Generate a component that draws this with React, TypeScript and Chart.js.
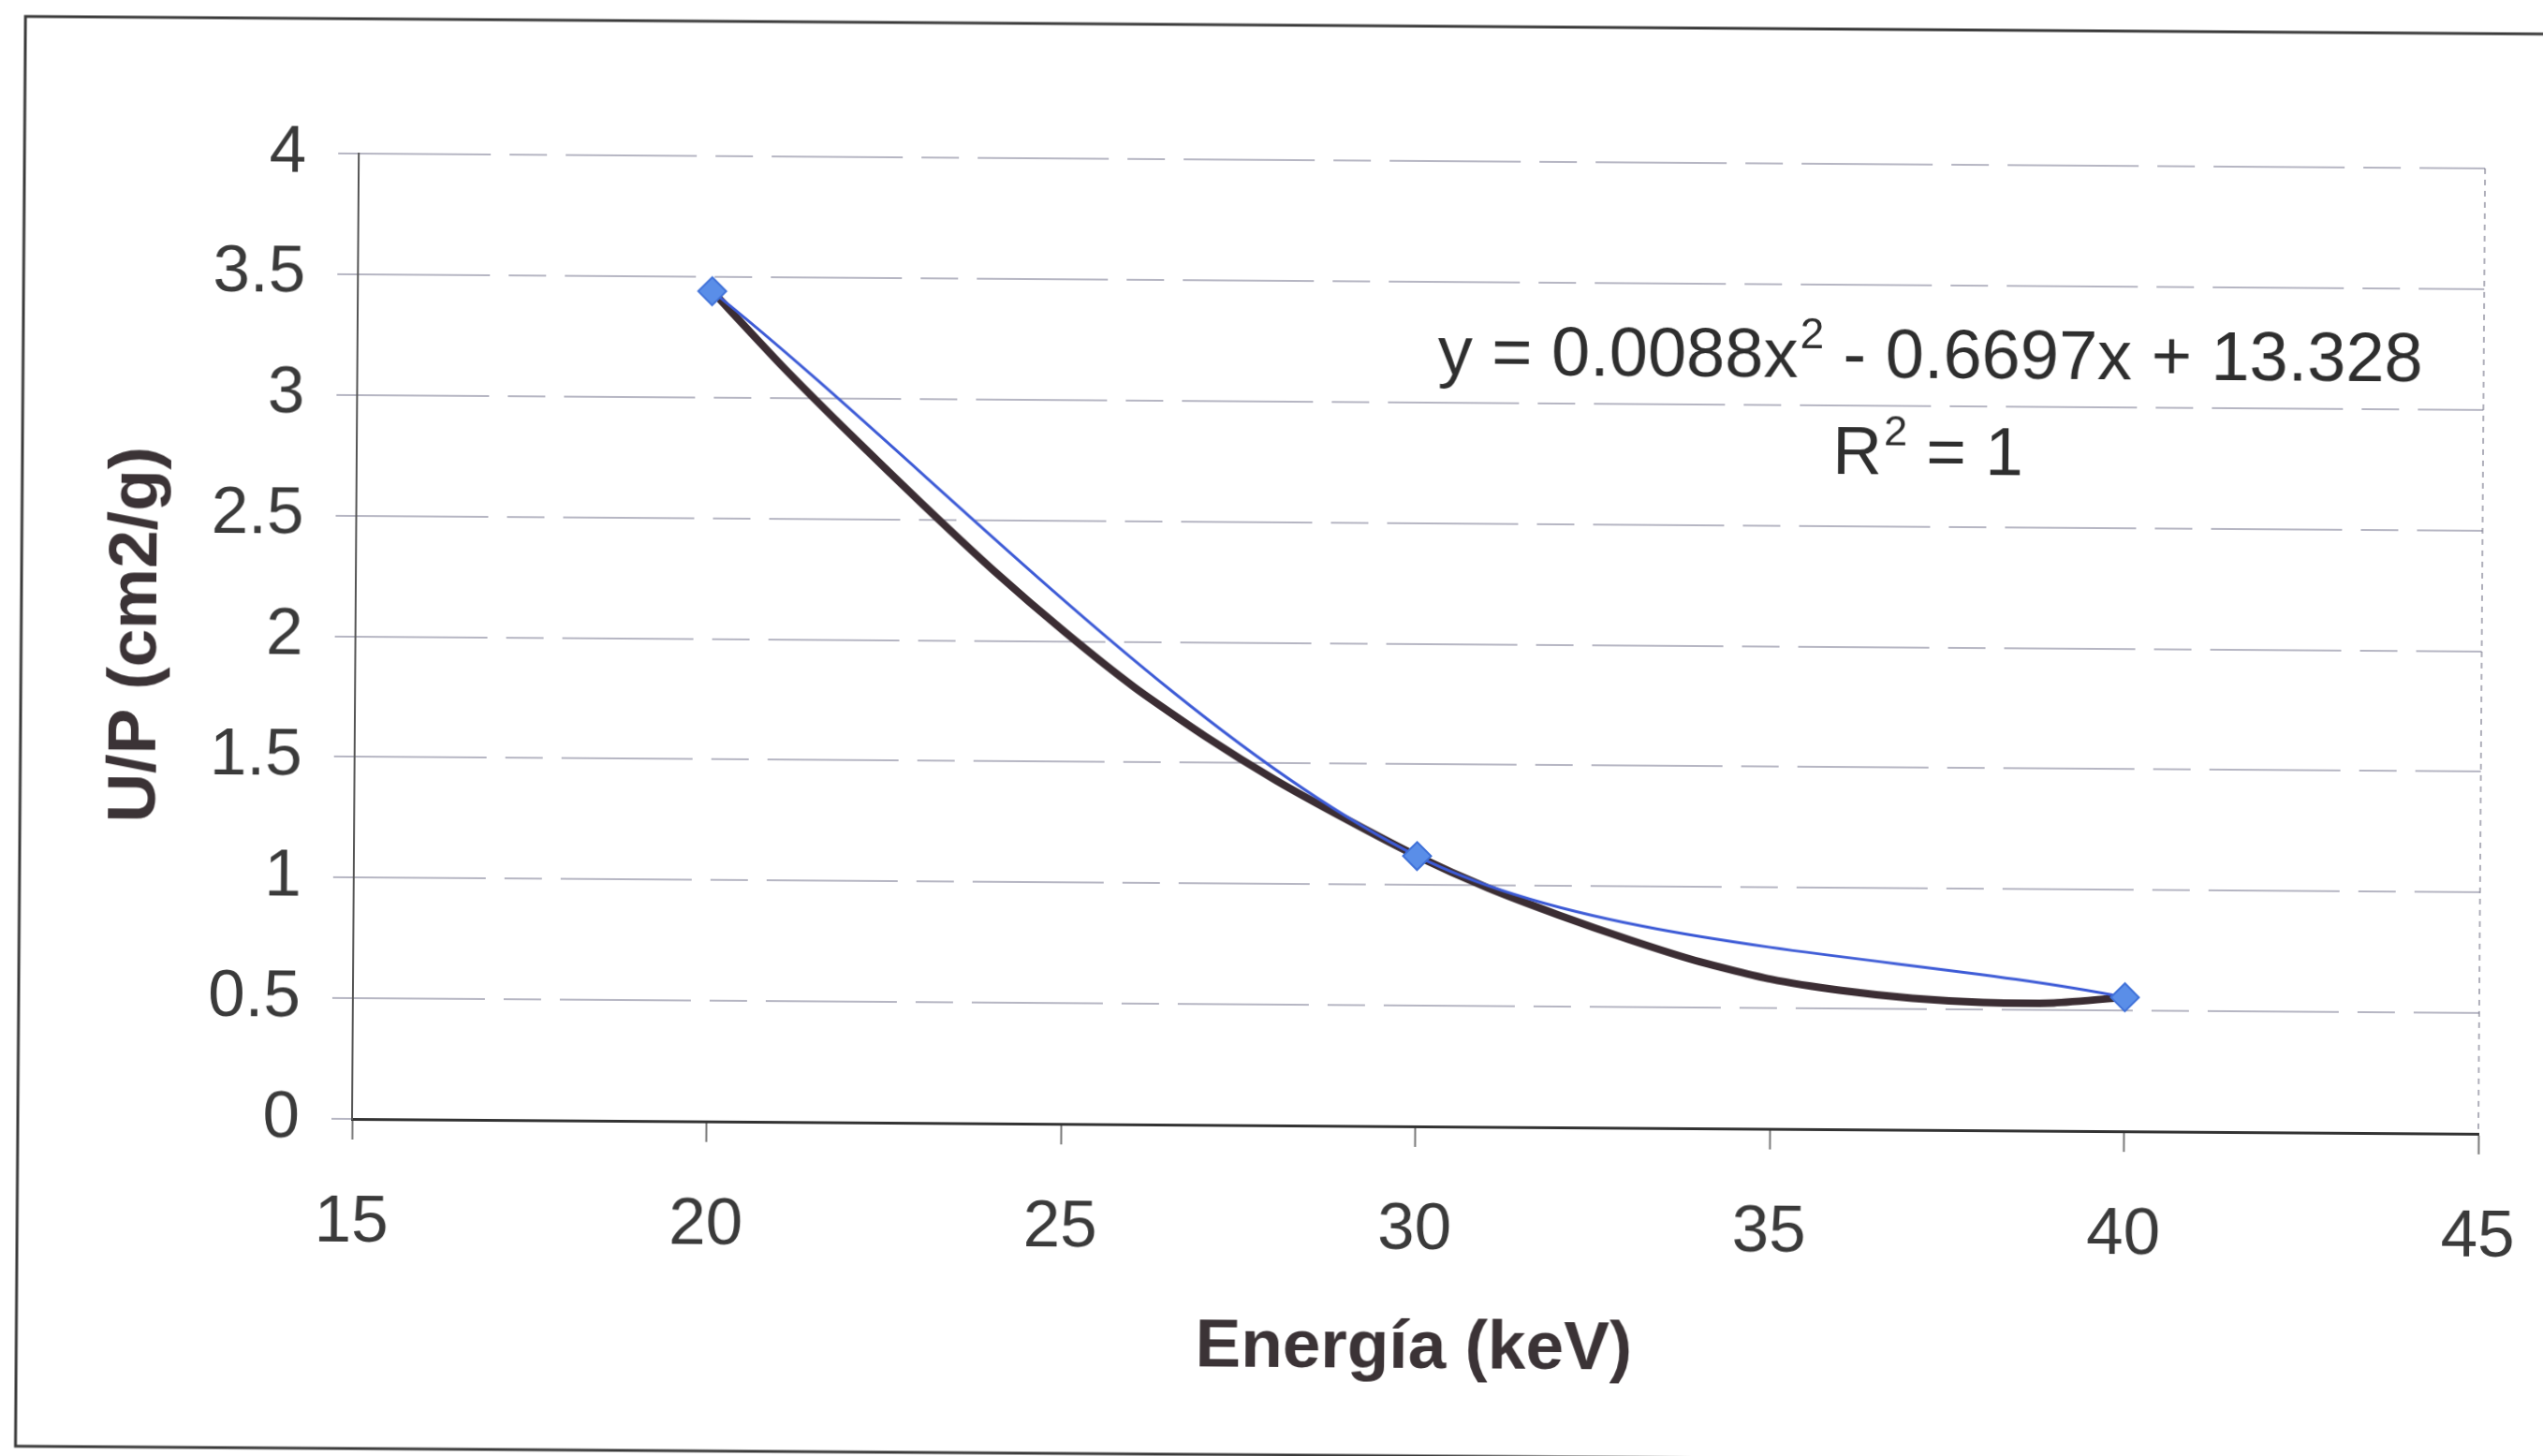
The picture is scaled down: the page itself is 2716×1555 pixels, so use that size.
import { useEffect, useRef } from "react";
import { Chart, registerables } from "chart.js";

Chart.register(...registerables);

// Valores medidos de U/P frente a la energía
const energiaKeV = [20, 30, 40];
const upMedido = [3.44, 1.12, 0.555];

// Línea de tendencia polinómica (orden 2)
const tendenciaX = [20, 21, 22, 23, 24, 25, 26, 27, 28, 29, 30, 31, 32, 33, 34, 35, 36, 37, 38, 39, 40];
const tendenciaY = [3.44, 3.13, 2.84, 2.56, 2.29, 2.04, 1.81, 1.61, 1.43, 1.27, 1.12, 0.99, 0.88, 0.78, 0.69, 0.62, 0.575, 0.545, 0.53, 0.53, 0.555];

// Ejes
const xMin = 15;
const xMax = 45;
const xStep = 5;
const yMin = 0;
const yMax = 4;
const yStep = 0.5;

const tituloX = "Energía (keV)";
const tituloY = "U/P (cm2/g)";
const ecuacion = ["y = 0.0088x", "2", " - 0.6697x + 13.328"];
const rCuadrado = ["R", "2", " = 1"];

const FONT = '"Liberation Sans", Arial, sans-serif';
const W = 2716;
const H = 1555;

function drawWithSuperscript(
  ctx: CanvasRenderingContext2D,
  parts: string[],
  cx: number,
  baseline: number,
  size: number
) {
  const main = `${size}px ${FONT}`;
  const sup = `${Math.round(size * 0.62)}px ${FONT}`;
  ctx.font = main;
  const w1 = ctx.measureText(parts[0]).width;
  const w3 = ctx.measureText(parts[2]).width;
  ctx.font = sup;
  const w2 = ctx.measureText(parts[1]).width;
  let x = cx - (w1 + w2 + w3) / 2;
  ctx.textAlign = "left";
  ctx.textBaseline = "alphabetic";
  ctx.font = main;
  ctx.fillText(parts[0], x, baseline);
  x += w1;
  ctx.font = sup;
  ctx.fillText(parts[1], x + 2, baseline - size * 0.42);
  x += w2 + 2;
  ctx.font = main;
  ctx.fillText(parts[2], x, baseline);
}

const framePlugin = {
  id: "frame",
  beforeDraw(chart: any) {
    const ctx = chart.ctx as CanvasRenderingContext2D;
    ctx.save();
    ctx.fillStyle = "#ffffff";
    ctx.fillRect(0, 0, chart.width, chart.height);
    ctx.strokeStyle = "#3a3a3a";
    ctx.lineWidth = 3;
    ctx.beginPath();
    ctx.moveTo(W + 20, 20);
    ctx.lineTo(19, 20);
    ctx.lineTo(19, 1547);
    ctx.lineTo(W + 20, 1547);
    ctx.stroke();
    ctx.restore();
  },
  beforeDatasetsDraw(chart: any) {
    const { ctx, chartArea } = chart;
    ctx.save();
    ctx.strokeStyle = "rgba(110,110,130,0.55)";
    ctx.lineWidth = 2;
    ctx.setLineDash([6, 6]);
    ctx.beginPath();
    ctx.moveTo(chartArea.right, chartArea.top);
    ctx.lineTo(chartArea.right, chartArea.bottom);
    ctx.stroke();
    ctx.restore();
  },
  afterDraw(chart: any) {
    const ctx = chart.ctx as CanvasRenderingContext2D;
    ctx.save();
    ctx.fillStyle = "#2e2e2e";
    drawWithSuperscript(ctx, ecuacion, 2055, 392, 74);
    drawWithSuperscript(ctx, rCuadrado, 2053, 495, 73);
    ctx.restore();
  },
};

export default function App() {
  const canvasRef = useRef<HTMLCanvasElement | null>(null);

  useEffect(() => {
    if (!canvasRef.current) return;
    const chart = new Chart(canvasRef.current, {
      type: "scatter",
      data: {
        datasets: [
          {
            label: "U/P",
            data: energiaKeV.map((x, i) => ({ x, y: upMedido[i] })),
            showLine: true,
            borderColor: "#3c5ad6",
            borderWidth: 3,
            tension: 0.3,
            pointStyle: "rectRot",
            pointRadius: 15,
            pointBackgroundColor: "#5a8ee8",
            pointBorderColor: "#3e70d8",
            pointBorderWidth: 2,
          },
          {
            label: "Polinómica",
            data: tendenciaX.map((x, i) => ({ x, y: tendenciaY[i] })),
            showLine: true,
            borderColor: "#3b2d33",
            borderWidth: 8,
            tension: 0.2,
            pointRadius: 0,
          },
        ],
      },
      options: {
        animation: false,
        responsive: false,
        devicePixelRatio: 1,
        layout: { padding: { left: 0, top: 164, right: 69, bottom: 0 } },
        plugins: {
          legend: { display: false },
          tooltip: { enabled: false },
        },
        scales: {
          x: {
            type: "linear",
            min: xMin,
            max: xMax,
            afterFit: (scale: any) => {
              scale.height = H - 1195;
              scale.paddingLeft = 0;
              scale.paddingRight = 0;
            },
            ticks: {
              stepSize: xStep,
              padding: 47,
              color: "#3a3a3a",
              font: { family: FONT, size: 71 },
              callback: (v: any) => String(Number(v)),
            },
            grid: {
              drawOnChartArea: false,
              drawTicks: true,
              tickLength: 22,
              tickColor: "#777777",
              tickWidth: 2,
            },
            border: { display: true, color: "#333333", width: 3 },
            title: {
              display: true,
              text: tituloX,
              color: "#3b3336",
              font: { family: FONT, size: 73, weight: "bold" },
              padding: { top: 0, bottom: 78 },
            },
          },
          y: {
            type: "linear",
            min: yMin,
            max: yMax,
            afterFit: (scale: any) => {
              scale.width = 376;
            },
            ticks: {
              stepSize: yStep,
              padding: 34,
              color: "#3a3a3a",
              font: { family: FONT, size: 71 },
              callback: (v: any) => String(Number(v)),
            },
            grid: {
              color: "rgba(110,110,135,0.5)",
              lineWidth: 2,
              drawTicks: true,
              tickLength: 22,
              tickBorderDash: [],
            },
            border: { display: true, color: "#555555", width: 2, dash: [140, 20, 40, 20] },
            title: {
              display: true,
              text: tituloY,
              color: "#3b3336",
              font: { family: FONT, size: 73, weight: "bold" },
              padding: { top: 99, bottom: 0 },
            },
          },
        },
      },
      plugins: [framePlugin],
    } as any);
    return () => chart.destroy();
  }, []);

  return (
    <div
      style={{
        position: "fixed",
        left: 0,
        top: 0,
        width: W,
        height: H,
        transform: "rotate(0.4deg)",
        transformOrigin: "376px 1195px",
        background: "#ffffff",
      }}
    >
      <canvas ref={canvasRef} width={W} height={H} style={{ display: "block" }} />
    </div>
  );
}
